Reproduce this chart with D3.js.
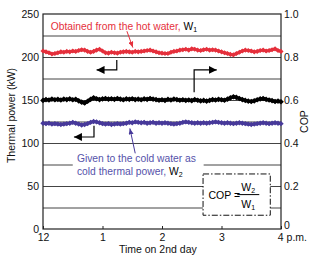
<!DOCTYPE html>
<html>
<head>
<meta charset="utf-8">
<script src="https://cdn.jsdelivr.net/npm/d3@7"></script>
<style>
  body { margin: 0; background: #fff; }
  svg text { font-family: "Liberation Sans", Arial, sans-serif; }
</style>
</head>
<body>
<div id="chart"></div>
<script>
// time axis, hours after noon (12 .. 4 p.m.), one sample every 3 minutes
const hourTicks = [0, 1, 2, 3, 4];
const hourLabels = ["12", "1", "2", "3", "4 p.m."];
const powerTicks = [0, 50, 100, 150, 200, 250];
const gridValues = [25, 50, 75, 100, 125, 150, 175, 200, 225];
const copTicks = [0, 0.2, 0.4, 0.6, 0.8, 1.0];

// W1, thermal power obtained from the hot water (kW)
const w1 = [207, 206, 205, 203.5, 204, 205, 206, 205.5, 206.5, 206, 207, 206.5, 207.5, 208.5, 208, 206.5,
  205.5, 206.5, 208, 209, 207, 205, 204.5, 205.5, 205, 204.5, 205.5, 206, 206.5, 206, 205.5, 206.5,
  206, 206.5, 207, 207.5, 208, 207, 206, 205, 204.5, 204, 204, 205.5, 206.5, 207, 208, 208.5,
  209, 208, 209.5, 209, 208, 207.5, 208.5, 209, 208, 208.5, 208, 207, 206, 205, 204, 203,
  202.5, 204, 205.5, 207, 208, 207.5, 207, 206, 206.5, 207.5, 208, 207, 207.5, 208.5, 209.5, 207.5, 206.5];

// COP (right axis)
const cop = [0.598, 0.602, 0.600, 0.604, 0.601, 0.603, 0.600, 0.604, 0.602, 0.605, 0.601, 0.603, 0.596, 0.590,
  0.586, 0.594, 0.603, 0.610, 0.606, 0.602, 0.605, 0.607, 0.604, 0.606, 0.603, 0.607, 0.604, 0.601, 0.605,
  0.603, 0.606, 0.602, 0.604, 0.601, 0.605, 0.603, 0.607, 0.604, 0.602, 0.599, 0.601, 0.598, 0.603, 0.600,
  0.604, 0.602, 0.599, 0.601, 0.598, 0.600, 0.597, 0.602, 0.599, 0.596, 0.598, 0.595, 0.598, 0.602, 0.600,
  0.603, 0.601, 0.599, 0.604, 0.610, 0.615, 0.612, 0.607, 0.602, 0.598, 0.595, 0.593, 0.596, 0.601, 0.605,
  0.607, 0.603, 0.600, 0.597, 0.593, 0.595, 0.592];

// W2, cold thermal power given to the cold water (kW)
const w2 = [123, 122.5, 123, 122, 122.5, 122, 121.5, 122, 122.5, 123, 124, 123, 122, 121, 121.5, 122.5,
  124, 125, 124.5, 123.5, 122.5, 122, 122.5, 121.5, 122, 122.5, 122, 122.5, 123, 124, 123.5, 124.5,
  124, 123.5, 124, 123, 123.5, 124, 123, 123.5, 123, 123.5, 123, 122.5, 122, 122.5, 123, 124,
  124.5, 124, 123.5, 123, 123.5, 123, 123.5, 123, 123.5, 124, 124.5, 124, 123.5, 123, 123.5, 123,
  122.5, 123, 123.5, 123, 122.5, 122, 121.5, 122, 122.5, 123, 123.5, 123, 122.5, 123, 123.5, 123, 122.5];

const step = 0.05;

const width = 311, height = 255;
const margin = {top: 14, right: 30, bottom: 26, left: 43};

const svg = d3.select("#chart").append("svg")
  .attr("width", width).attr("height", height);

const x = d3.scaleLinear().domain([0, 4]).range([margin.left, width - margin.right]);
const yL = d3.scaleLinear().domain([0, 250]).range([height - margin.bottom, margin.top]);
const yR = d3.scaleLinear().domain([0, 1]).range([height - margin.bottom, margin.top]);

const red = "#e5303c", blue = "#47399a", blueText = "#5552aa", ink = "#222";

// arrowheads
const defs = svg.append("defs");
function marker(id, color, len, half) {
  defs.append("marker").attr("id", id)
    .attr("markerUnits", "userSpaceOnUse")
    .attr("viewBox", `0 ${-half} ${len} ${half * 2}`)
    .attr("refX", len).attr("refY", 0)
    .attr("markerWidth", len).attr("markerHeight", half * 2)
    .attr("orient", "auto")
    .append("path").attr("d", `M0,${-half}L${len},0L0,${half}Z`).attr("fill", color);
}
marker("headK", "#000", 8, 4);
marker("headR", red, 6, 2.5);
marker("headB", blue, 6, 2.5);

// gridlines
svg.append("g")
  .attr("transform", `translate(${margin.left},0)`)
  .call(d3.axisLeft(yL).tickValues(gridValues).tickSize(-(x.range()[1] - x.range()[0])).tickFormat(""))
  .call(g => g.select(".domain").remove())
  .call(g => g.selectAll("line").attr("stroke", "#444").attr("stroke-width", 1));

// annotation backgrounds cut the gridlines
svg.append("rect").attr("x", x(0.5)).attr("y", yL(92)).attr("width", x(2.7) - x(0.5)).attr("height", yL(57) - yL(92)).attr("fill", "#fff");

// COP box
const box = {t0: 2.69, t1: 3.82, k0: 16, k1: 64};
svg.append("rect")
  .attr("x", x(box.t0)).attr("y", yL(box.k1))
  .attr("width", x(box.t1) - x(box.t0)).attr("height", yL(box.k0) - yL(box.k1))
  .attr("fill", "#fff").attr("stroke", "#111").attr("stroke-width", 1)
  .attr("stroke-dasharray", "6,2,1.5,2");

// left axis labels
svg.append("g")
  .attr("transform", `translate(${margin.left},0)`)
  .call(d3.axisLeft(yL).tickValues(powerTicks).tickSize(0).tickPadding(4))
  .call(g => g.select(".domain").remove())
  .call(g => g.selectAll("text").attr("font-size", 10.5).attr("fill", "#111").attr("font-family", "Liberation Sans, Arial, sans-serif"));

// right axis labels
svg.append("g")
  .attr("transform", `translate(${x(4)},0)`)
  .call(d3.axisRight(yR).tickValues(copTicks).tickSize(0).tickPadding(3)
    .tickFormat(d => d === 0 ? "0" : d3.format(".1f")(d)))
  .call(g => g.select(".domain").remove())
  .call(g => g.selectAll("text").attr("font-size", 10.5).attr("fill", "#111").attr("font-family", "Liberation Sans, Arial, sans-serif"))
  .call(g => g.selectAll(".tick").filter(d => d === 0).select("text").attr("dy", "-0.05em"));

// bottom axis with inward ticks
svg.append("g")
  .attr("transform", `translate(0,${yL(0)})`)
  .call(d3.axisBottom(x).tickValues(hourTicks).tickSize(-3).tickPadding(5)
    .tickFormat((d, i) => hourLabels[i]))
  .call(g => g.select(".domain").remove())
  .call(g => g.selectAll("line").attr("stroke", ink))
  .call(g => g.selectAll("text").attr("font-size", 10.5).attr("fill", "#111").attr("font-family", "Liberation Sans, Arial, sans-serif"))
  .call(g => g.selectAll(".tick").filter(d => d === 4).select("text").attr("text-anchor", "start").attr("dx", "-0.35em"));

// frame
svg.append("rect")
  .attr("x", x(0)).attr("y", yL(250))
  .attr("width", x(4) - x(0)).attr("height", yL(0) - yL(250))
  .attr("fill", "none").attr("stroke", ink).attr("stroke-width", 1.2);

// series: thick line plus small square markers for the ragged look
const lineL = d3.line().x((d, i) => x(i * step)).y(d => yL(d));
const lineR = d3.line().x((d, i) => x(i * step)).y(d => yR(d));

function series(data, line, yScale, color, w, s) {
  svg.append("path").datum(data).attr("d", line)
    .attr("fill", "none").attr("stroke", color).attr("stroke-width", w).attr("stroke-linejoin", "round");
  svg.append("g").selectAll("rect").data(data).join("rect")
    .attr("x", (d, i) => x(i * step) - s / 2)
    .attr("y", d => yScale(d) - s / 2)
    .attr("width", s).attr("height", s)
    .attr("transform", (d, i) => `rotate(45,${x(i * step)},${yScale(d)})`)
    .attr("fill", color);
}
series(w1, lineL, yL, red, 3, 3.6);
series(cop, lineR, yR, "#000", 3.4, 4);
series(w2, lineL, yL, blue, 3.2, 3.8);

// bent arrows telling which axis each curve uses
function bent(t0, k0, k1, t1) {
  svg.append("path")
    .attr("d", `M${x(t0)},${yL(k0)}V${yL(k1)}H${x(t1)}`)
    .attr("fill", "none").attr("stroke", "#000").attr("stroke-width", 1.2)
    .attr("marker-end", "url(#headK)");
}
bent(1.24, 196.5, 185, 0.9);
bent(2.54, 159, 185, 2.92);
bent(0.857, 120, 107, 0.52);

// callout arrows
svg.append("line")
  .attr("x1", x(1.41)).attr("y1", yL(230)).attr("x2", x(1.51)).attr("y2", yL(211))
  .attr("stroke", red).attr("stroke-width", 1).attr("marker-end", "url(#headR)");
svg.append("line")
  .attr("x1", x(1.55)).attr("y1", yL(88)).attr("x2", x(1.46)).attr("y2", yL(117))
  .attr("stroke", blue).attr("stroke-width", 1).attr("marker-end", "url(#headB)");

// texts
const t1 = svg.append("text").attr("x", x(0.13)).attr("y", yL(236) + 4).attr("font-size", 10.3);
t1.append("tspan").attr("fill", red).text("Obtained from the hot water, ");
t1.append("tspan").attr("fill", "#000").text("W");
t1.append("tspan").attr("fill", "#000").attr("font-size", 7).attr("dy", 2).text("1");

const g2 = svg.append("text").attr("x", x(0.57)).attr("font-size", 10.3).attr("fill", blueText);
g2.append("tspan").attr("x", x(0.57)).attr("y", yL(82) + 4).text("Given to the cold water as");
g2.append("tspan").attr("x", x(0.57)).attr("y", yL(68) + 4).text("cold thermal power, ");
g2.append("tspan").attr("fill", "#000").text("W");
g2.append("tspan").attr("fill", "#000").attr("font-size", 7).attr("dy", 2).text("2");

// COP = W2 / W1
const cx = x(2.78), cy = yL(40);
svg.append("text").attr("x", cx).attr("y", cy + 4).attr("font-size", 10.5).attr("fill", "#000").text("COP =");
const fx = x(3.45);
svg.append("line").attr("x1", fx - 11).attr("x2", fx + 11).attr("y1", cy).attr("y2", cy)
  .attr("stroke", "#000").attr("stroke-width", 1);
const num = svg.append("text").attr("x", fx).attr("y", cy - 4).attr("text-anchor", "middle").attr("font-size", 10.5).attr("fill", "#000");
num.append("tspan").text("W");
num.append("tspan").attr("font-size", 7).attr("dy", 2).text("2");
const den = svg.append("text").attr("x", fx).attr("y", cy + 13).attr("text-anchor", "middle").attr("font-size", 10.5).attr("fill", "#000");
den.append("tspan").text("W");
den.append("tspan").attr("font-size", 7).attr("dy", 2).text("1");

// axis titles
svg.append("text")
  .attr("transform", `translate(15,${(yL(0) + yL(250)) / 2 - 6}) rotate(-90)`)
  .attr("text-anchor", "middle").attr("font-size", 10.5).attr("fill", "#111")
  .text("Thermal power (kW)");
svg.append("text")
  .attr("transform", `translate(${width - 3},${yR(0.5)}) rotate(-90)`)
  .attr("text-anchor", "middle").attr("font-size", 10.5).attr("fill", "#111")
  .text("COP");
svg.append("text")
  .attr("x", x(1.93)).attr("y", height - 2)
  .attr("text-anchor", "middle").attr("font-size", 10.5).attr("fill", "#111")
  .text("Time on 2nd day");
</script>
</body>
</html>
